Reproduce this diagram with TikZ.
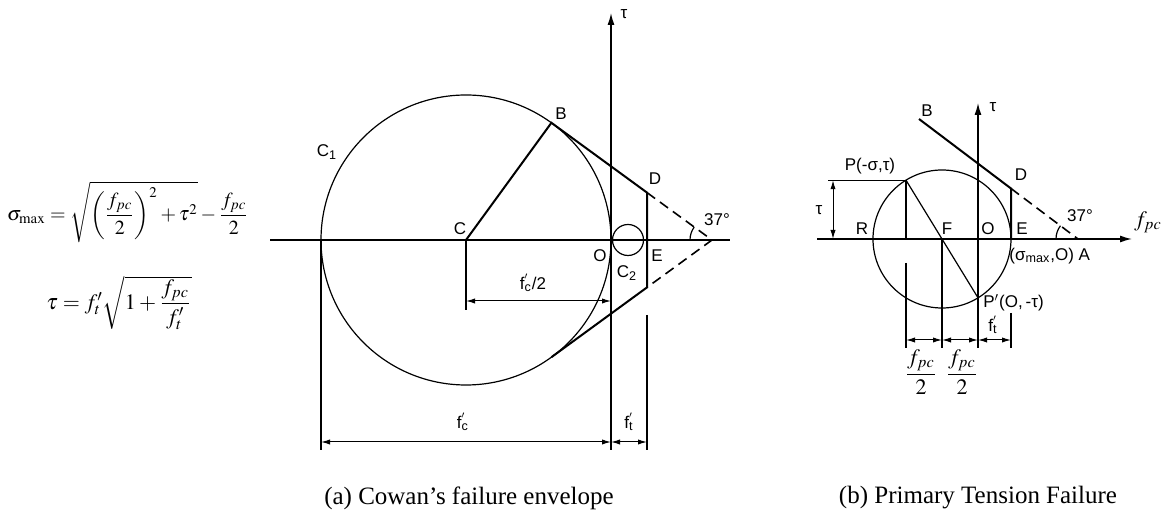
\documentclass[tikz,border=0pt]{standalone}
\usepackage{amsmath}
\usepackage{mathptmx}
\usepackage[no-math]{fontspec}
\setmainfont{Liberation Serif}
\setsansfont{Liberation Sans}
\usetikzlibrary{arrows.meta,positioning,calc}
\tikzset{
  >={Latex[length=6pt,width=3.5pt]},
  axis/.style={line width=0.7pt},
  envelope/.style={line width=1pt},
  guide/.style={line width=0.6pt},
  mohr/.style={line width=0.6pt},
  dashline/.style={line width=0.8pt,dash pattern=on 5pt off 3pt},
  dim/.style={{Latex[length=4.5pt,width=2.6pt]}-{Latex[length=4.5pt,width=2.6pt]},line width=0.5pt},
  lbl/.style={font=\sffamily\fontsize{8.5}{9}\selectfont,inner sep=1pt},
  caption/.style={font=\fontsize{12.5}{14}\selectfont,inner sep=0pt},
  formula/.style={font=\fontsize{11}{13}\selectfont,inner sep=0pt}
}
\newcommand{\lblprime}[2]{#1\rlap{\raisebox{0.55ex}{\scriptsize$'$}}\textsubscript{#2}}

\begin{document}
\begin{tikzpicture}[x=0.5pt,y=-0.5pt]
  \useasboundingbox (0,0) rectangle (1168,517);

  \node[formula,font=\fontsize{10}{12}\selectfont] (smax) at (128,212) {$\sigma_{\max}=\sqrt{\left(\dfrac{f_{pc}}{2}\right)^{2}+\tau^{2}}-\dfrac{f_{pc}}{2}$};
  \node[formula] (tauf) at (119,303) {$\tau=f'_{t}\sqrt{1+\dfrac{f_{pc}}{f'_{t}}}$};

  % (a) Cowan
  \coordinate (aL) at (270,240);
  \coordinate (aR) at (730,240);
  \coordinate (aO) at (611,240);
  \coordinate (aTauB) at (611,450);
  \coordinate (aTauT) at (611,13);
  \coordinate (aC) at (466,240);
  \coordinate (aB) at (551.4,122.8);
  \coordinate (aBl) at (551.4,357.2);
  \coordinate (aV) at (712,240);
  \coordinate (aD) at (647,192.6);
  \coordinate (aDl) at (647,287.4);
  \coordinate (aC2) at (628,240);
  \coordinate (aCd) at (466,310);
  \coordinate (aCa) at (466,301);
  \coordinate (aOa) at (611,301);
  \coordinate (aLe) at (321,240);
  \coordinate (aLd) at (321,450);
  \coordinate (aLa) at (321,442);
  \coordinate (aOc) at (611,442);
  \coordinate (aEa) at (647,442);
  \coordinate (aEu) at (647,315);
  \coordinate (aEd) at (647,450);

  \draw[axis] (aL) -- (aR);
  \draw[axis,->] (aTauB) -- (aTauT);
  \draw[mohr] (aC) circle[radius=145];
  \draw[mohr] (aC2) circle[radius=15.5];
  \draw[envelope] (aC) -- (aB) -- (aD) -- (aDl) -- (aBl);
  \draw[dashline] (aD) -- (aV) -- (aDl);
  \draw[guide] ($(aV)+(-22,0)$) arc[start angle=180,end angle=216,radius=22];
  \draw[guide] (aC) -- (aCd);
  \draw[guide] (aLe) -- (aLd);
  \draw[guide] (aEu) -- (aEd);
  \draw[dim] (aCa) -- (aOa);
  \draw[dim] (aLa) -- (aOc);
  \draw[dim] (aOc) -- (aEa);

  \node[lbl] (aTauLbl) at (624,14) {τ};
  \node[lbl] (aBLbl) at (561,114) {B};
  \node[lbl] (aCLbl) at (460,229) {C};
  \node[lbl] (aC1Lbl) at (327,152) {C\textsubscript{1}};
  \node[lbl] (aDLbl) at (655,179) {D};
  \node[lbl] (aOLbl) at (600,256) {O};
  \node[lbl] (aELbl) at (657,256) {E};
  \node[lbl] (aC2Lbl) at (627,273) {C\textsubscript{2}};
  \node[lbl] (aAngLbl) at (717,220) {37°};
  \node[lbl] (aHalfLbl) at (533,283) {\lblprime{f}{c}/2};
  \node[lbl] (aFcLbl) at (463,422) {\lblprime{f}{c}};
  \node[lbl] (aFtLbl) at (629,422) {\lblprime{f}{t}};

  \node[caption] (capA) at (469,498) {(a) Cowan’s failure envelope};

  % (b) primary tension
  \coordinate (bL) at (817,239);
  \coordinate (bR) at (1132,239);
  \coordinate (bTauB) at (978,348);
  \coordinate (bTauT) at (978,103);
  \coordinate (bF) at (942,239);
  \coordinate (bP) at (906,180.2);
  \coordinate (bPp) at (978,297.8);
  \coordinate (bPl) at (828,180.2);
  \coordinate (bPx) at (906,239);
  \coordinate (bPu) at (906,263);
  \coordinate (bPd) at (906,348);
  \coordinate (bFd) at (942,348);
  \coordinate (bB) at (919,119);
  \coordinate (bD) at (1011,188.5);
  \coordinate (bE) at (1011,239);
  \coordinate (bA) at (1078,239);
  \coordinate (bEu) at (1011,313);
  \coordinate (bEd) at (1011,348);
  \coordinate (bTa) at (833,180.2);
  \coordinate (bTb) at (833,239);
  \coordinate (bD1) at (906,340);
  \coordinate (bD2) at (942,340);
  \coordinate (bD3) at (978,340);
  \coordinate (bD4) at (1011,340);

  \draw[axis,->] (bL) -- (bR);
  \draw[axis,->] (bTauB) -- (bTauT);
  \draw[mohr] (bF) circle[radius=69];
  \draw[guide] (bP) -- (bPp);
  \draw[guide] (bPl) -- (bP) -- (bPx);
  \draw[guide] (bPu) -- (bPd);
  \draw[guide] (bF) -- (bFd);
  \draw[envelope] (bB) -- (bD) -- (bE);
  \draw[dashline] (bD) -- (bA);
  \draw[guide] ($(bA)+(-22,0)$) arc[start angle=180,end angle=217,radius=22];
  \draw[guide] (bEu) -- (bEd);
  \draw[dim] (bTa) -- (bTb);
  \draw[dim] (bD1) -- (bD2);
  \draw[dim] (bD2) -- (bD3);
  \draw[dim] (bD3) -- (bD4);

  \node[lbl] (bTauLbl) at (993,107) {τ};
  \node[lbl] (bBLbl) at (927,111) {B};
  \node[lbl] (bDLbl) at (1021,175) {D};
  \node[lbl] (bRLbl) at (862,229) {R};
  \node[lbl] (bFLbl) at (947,229) {F};
  \node[lbl] (bOLbl) at (988,229) {O};
  \node[lbl] (bELbl) at (1022,229) {E};
  \node[lbl] (bAngLbl) at (1080,216) {37°};
  \node[lbl] (bPLbl) at (870,166) {P(-σ,τ)};
  \node[lbl,anchor=west] (bPpLbl) at (981,303) {P$'$(O,\,-τ)};
  \node[lbl,anchor=west] (bALbl) at (1007,256) {(σ\textsubscript{max},O) A};
  \node[lbl] (bTauDim) at (819,210) {τ};
  \node[lbl] (bFtLbl) at (993,325) {\lblprime{f}{t}};
  \node[formula] (bH1) at (921,372) {$\dfrac{f_{pc}}{2}$};
  \node[formula] (bH2) at (962,372) {$\dfrac{f_{pc}}{2}$};
  \node[formula] (bFpc) at (1148,222) {$f_{pc}$};

  \node[caption] (capB) at (978,498) {(b) Primary Tension Failure};
\end{tikzpicture}
\end{document}
